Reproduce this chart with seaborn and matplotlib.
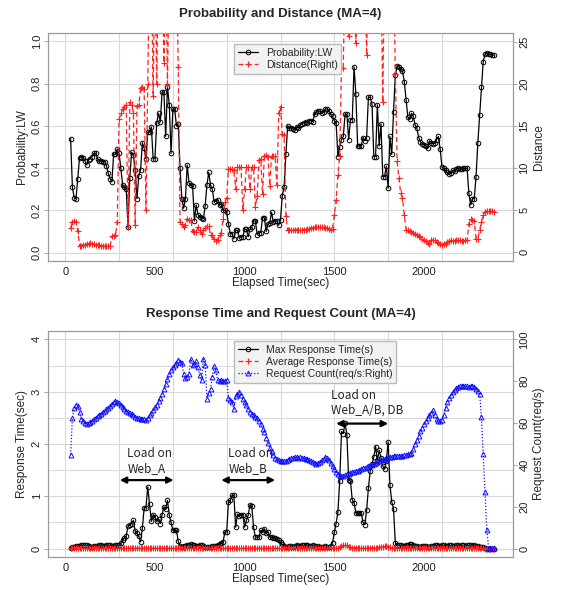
import numpy as np
import pandas as pd
import seaborn as sns
import matplotlib.pyplot as plt
from matplotlib.lines import Line2D

sns.set_style("white")
plt.rcParams["font.family"] = ["Liberation Sans", "DejaVu Sans"]

# elapsed time, one sample every 10 sec (moving average of 4)
elapsed = list(range(30, 2400, 10))

prob_lw = [
    0.54, 0.31, 0.26, 0.255, 0.35, 0.45, 0.455, 0.45, 0.435, 0.415,
    0.44, 0.445, 0.455, 0.47, 0.47, 0.445, 0.435, 0.435, 0.43, 0.43,
    0.41, 0.375, 0.35, 0.335, 0.465, 0.465, 0.49, 0.47, 0.40, 0.32,
    0.31, 0.30, 0.12, 0.355, 0.475, 0.46, 0.39, 0.255, 0.365, 0.39,
    0.52, 0.495, 0.445, 0.57, 0.57, 0.595, 0.445, 0.445, 0.615, 0.66,
    0.62, 0.76, 0.76, 0.55, 0.785, 0.70, 0.47, 0.68, 0.68, 0.60,
    0.61, 0.40, 0.255, 0.21, 0.255, 0.415, 0.33, 0.32, 0.315, 0.15,
    0.225, 0.18, 0.17, 0.165, 0.16, 0.22, 0.32, 0.38, 0.32, 0.30,
    0.24, 0.245, 0.25, 0.225, 0.23, 0.20, 0.20, 0.19, 0.135, 0.09,
    0.09, 0.065, 0.105, 0.105, 0.07, 0.075, 0.075, 0.11, 0.11, 0.075,
    0.11, 0.12, 0.15, 0.15, 0.085, 0.095, 0.095, 0.165, 0.165, 0.10,
    0.135, 0.14, 0.19, 0.145, 0.15, 0.15, 0.13, 0.155, 0.27, 0.31,
    0.465, 0.60, 0.59, 0.59, 0.585, 0.58, 0.595, 0.59, 0.605, 0.61,
    0.615, 0.62, 0.615, 0.625, 0.625, 0.62, 0.655, 0.665, 0.67, 0.67,
    0.66, 0.665, 0.68, 0.68, 0.67, 0.655, 0.645, 0.625, 0.615, 0.455,
    0.50, 0.535, 0.55, 0.655, 0.655, 0.535, 0.63, 0.63, 0.88, 0.75,
    0.505, 0.505, 0.505, 0.545, 0.53, 0.545, 0.735, 0.735, 0.705, 0.455,
    0.455, 0.70, 0.505, 0.61, 0.36, 0.36, 0.41, 0.305, 0.55, 0.465,
    0.665, 0.84, 0.885, 0.88, 0.87, 0.86, 0.81, 0.725, 0.64, 0.635,
    0.66, 0.645, 0.605, 0.59, 0.545, 0.525, 0.515, 0.51, 0.505, 0.495,
    0.53, 0.52, 0.515, 0.52, 0.535, 0.55, 0.49, 0.405, 0.40, 0.39,
    0.38, 0.37, 0.375, 0.39, 0.385, 0.395, 0.40, 0.395, 0.395, 0.40,
    0.40, 0.40, 0.28, 0.225, 0.255, 0.255, 0.36, 0.52, 0.65, 0.785,
    0.905, 0.94, 0.945, 0.94, 0.94, 0.935, 0.935,
]

# values above 26 run off the top of the plot
distance = [
    2.9, 3.6, 3.7, 3.6, 2.5, 0.8, 0.8, 0.9, 0.9, 1.0,
    1.0, 1.05, 1.0, 0.95, 0.9, 0.85, 0.85, 0.8, 0.75, 0.75,
    0.7, 0.7, 0.75, 1.9, 1.9, 2.0, 3.6, 15.8, 16.5, 17.0,
    17.2, 17.5, 3.0, 17.8, 17.5, 16.5, 3.2, 17.4, 17.5, 19.5,
    19.6, 19.4, 5.0, 20.0, 35.0, 35.0, 18.5, 35.0, 20.0, 35.0,
    35.0, 35.0, 22.5, 35.0, 20.0, 35.0, 35.0, 35.0, 35.0, 35.0,
    22.0, 3.6, 3.4, 3.0, 3.2, 4.0, 3.8, 3.8, 2.5, 2.4,
    2.4, 3.0, 2.6, 2.2, 2.6, 2.9, 3.1, 3.1, 2.1, 2.0,
    1.6, 1.3, 1.5, 2.0, 2.3, 4.0, 6.0, 6.4, 9.9, 9.9,
    9.9, 9.8, 7.5, 10.1, 10.1, 10.1, 5.0, 7.5, 10.1, 10.1,
    7.5, 10.1, 10.1, 5.4, 6.7, 10.9, 11.1, 6.9, 11.4, 11.5,
    11.3, 7.9, 11.4, 11.4, 11.4, 8.0, 16.5, 17.3, 14.1, 13.9,
    4.3, 2.7, 2.7, 2.7, 2.7, 2.7, 2.7, 2.7, 2.7, 2.7,
    2.7, 2.7, 2.8, 2.8, 2.9, 2.9, 3.0, 3.0, 3.0, 3.0,
    3.0, 3.0, 2.9, 2.9, 2.8, 2.7, 2.8, 4.4, 6.2, 9.2,
    11.4, 21.9, 21.9, 35.0, 35.0, 25.7, 35.0, 35.0, 35.0, 24.8,
    35.0, 35.0, 35.0, 35.0, 35.0, 23.4, 35.0, 35.0, 35.0, 35.0,
    35.0, 35.0, 35.0, 35.0, 17.8, 35.0, 35.0, 35.0, 35.0, 35.0,
    35.0, 21.2, 10.8, 8.8, 7.0, 6.4, 4.4, 2.7, 2.6, 2.5,
    2.4, 2.3, 2.2, 2.0, 1.9, 1.8, 1.6, 1.5, 1.3, 1.1,
    1.0, 1.5, 1.5, 1.4, 1.2, 1.1, 1.0, 0.9, 1.0, 1.0,
    1.2, 1.3, 1.4, 1.3, 1.3, 1.4, 1.4, 1.4, 1.3, 1.3,
    1.4, 1.4, 3.4, 3.9, 3.8, 3.7, 1.6, 1.6, 2.6, 3.6,
    4.4, 4.8, 4.9, 4.9, 4.9, 4.9, 4.8,
]

max_resp = [
    0.02, 0.03, 0.04, 0.05, 0.05, 0.05, 0.06, 0.06, 0.07, 0.06,
    0.05, 0.04, 0.04, 0.05, 0.05, 0.05, 0.06, 0.06, 0.05, 0.05,
    0.06, 0.06, 0.06, 0.05, 0.05, 0.06, 0.06, 0.06, 0.10, 0.17,
    0.20, 0.24, 0.43, 0.45, 0.48, 0.54, 0.33, 0.29, 0.24, 0.13,
    0.39, 0.78, 0.78, 1.18, 0.85, 0.52, 0.65, 0.60, 0.52, 0.57,
    0.48, 0.65, 0.80, 0.76, 0.92, 0.64, 0.50, 0.35, 0.35, 0.35,
    0.14, 0.05, 0.04, 0.05, 0.05, 0.06, 0.07, 0.08, 0.07, 0.06,
    0.05, 0.05, 0.06, 0.06, 0.05, 0.04, 0.04, 0.03, 0.04, 0.05,
    0.05, 0.05, 0.06, 0.08, 0.11, 0.13, 0.32, 0.32, 0.90, 0.92,
    1.02, 1.02, 0.41, 0.66, 0.62, 0.64, 0.65, 0.41, 0.54, 0.64,
    0.84, 0.81, 0.41, 0.22, 0.22, 0.22, 0.35, 0.32, 0.38, 0.29,
    0.32, 0.22, 0.22, 0.21, 0.20, 0.18, 0.16, 0.12, 0.08, 0.05,
    0.04, 0.04, 0.05, 0.05, 0.04, 0.05, 0.06, 0.05, 0.05, 0.06,
    0.06, 0.07, 0.06, 0.05, 0.05, 0.06, 0.05, 0.04, 0.05, 0.04,
    0.03, 0.04, 0.05, 0.04, 0.03, 0.05, 0.11, 0.31, 0.48, 0.70,
    1.29, 2.24, 2.20, 2.40, 2.18, 1.32, 1.29, 0.93, 0.88, 0.68,
    0.68, 0.68, 0.68, 0.50, 0.46, 0.73, 1.16, 1.48, 1.61, 1.75,
    1.95, 1.68, 1.88, 1.73, 1.58, 1.52, 1.68, 2.04, 1.22, 0.90,
    0.76, 0.11, 0.07, 0.06, 0.06, 0.05, 0.05, 0.06, 0.07, 0.08,
    0.08, 0.06, 0.05, 0.05, 0.04, 0.04, 0.05, 0.05, 0.05, 0.04,
    0.04, 0.05, 0.05, 0.06, 0.06, 0.05, 0.05, 0.06, 0.06, 0.05,
    0.05, 0.06, 0.06, 0.05, 0.05, 0.06, 0.06, 0.05, 0.06, 0.06,
    0.05, 0.06, 0.06, 0.06, 0.05, 0.06, 0.05, 0.05, 0.04, 0.04,
    0.03, 0.01, 0.0, 0.0, 0.0, 0.0, 0.0,
]

avg_resp = [
    0.01, 0.01, 0.01, 0.01, 0.01, 0.01, 0.01, 0.01, 0.01, 0.01,
    0.01, 0.01, 0.01, 0.01, 0.01, 0.01, 0.01, 0.01, 0.01, 0.01,
    0.01, 0.01, 0.01, 0.01, 0.01, 0.01, 0.01, 0.01, 0.01, 0.01,
    0.01, 0.01, 0.01, 0.01, 0.01, 0.01, 0.01, 0.01, 0.01, 0.01,
    0.01, 0.01, 0.01, 0.02, 0.01, 0.01, 0.01, 0.01, 0.01, 0.01,
    0.01, 0.01, 0.01, 0.01, 0.01, 0.01, 0.01, 0.01, 0.01, 0.01,
    0.01, 0.01, 0.01, 0.01, 0.01, 0.01, 0.01, 0.01, 0.01, 0.01,
    0.01, 0.01, 0.01, 0.01, 0.01, 0.01, 0.01, 0.01, 0.01, 0.01,
    0.01, 0.01, 0.01, 0.01, 0.01, 0.01, 0.01, 0.01, 0.01, 0.01,
    0.02, 0.02, 0.01, 0.01, 0.01, 0.01, 0.01, 0.01, 0.01, 0.01,
    0.01, 0.01, 0.01, 0.01, 0.01, 0.01, 0.01, 0.01, 0.01, 0.01,
    0.01, 0.01, 0.01, 0.01, 0.01, 0.01, 0.01, 0.01, 0.01, 0.01,
    0.01, 0.01, 0.01, 0.01, 0.01, 0.01, 0.01, 0.01, 0.01, 0.01,
    0.01, 0.01, 0.01, 0.01, 0.01, 0.01, 0.01, 0.01, 0.01, 0.01,
    0.01, 0.01, 0.01, 0.01, 0.01, 0.01, 0.01, 0.02, 0.02, 0.02,
    0.03, 0.05, 0.07, 0.07, 0.06, 0.04, 0.03, 0.02, 0.02, 0.02,
    0.02, 0.02, 0.01, 0.01, 0.01, 0.01, 0.01, 0.02, 0.02, 0.02,
    0.02, 0.02, 0.03, 0.03, 0.04, 0.05, 0.05, 0.04, 0.03, 0.02,
    0.01, 0.01, 0.01, 0.01, 0.01, 0.01, 0.01, 0.01, 0.01, 0.01,
    0.01, 0.01, 0.01, 0.01, 0.01, 0.01, 0.01, 0.01, 0.01, 0.01,
    0.01, 0.01, 0.01, 0.01, 0.01, 0.01, 0.01, 0.01, 0.01, 0.01,
    0.01, 0.01, 0.01, 0.01, 0.01, 0.01, 0.01, 0.01, 0.01, 0.01,
    0.01, 0.01, 0.01, 0.01, 0.01, 0.01, 0.01, 0.01, 0.01, 0.01,
    0.01, 0.0, 0.0, 0.0, 0.0, 0.0, 0.0,
]

req_count = [
    44.9, 62.4, 67.2, 68.8, 68.2, 65.3, 61.8, 60.8, 60.2, 59.7,
    60.0, 60.5, 61.2, 61.8, 62.6, 63.4, 64.0, 64.5, 65.3, 66.0,
    66.6, 67.4, 68.2, 69.2, 70.1, 70.4, 70.3, 69.6, 68.6, 67.7,
    66.8, 65.6, 65.1, 64.8, 64.2, 63.7, 63.1, 62.6, 62.2, 61.8,
    62.1, 61.8, 61.3, 62.4, 63.7, 65.0, 66.1, 67.5, 68.8, 70.5,
    72.0, 74.0, 76.1, 78.8, 81.2, 83.5, 85.5, 86.8, 87.6, 88.9,
    90.0, 89.3, 88.9, 83.6, 81.5, 82.0, 83.6, 90.8, 87.6, 88.0,
    89.5, 86.8, 82.8, 80.4, 90.8, 87.6, 71.7, 74.5, 76.4, 82.0,
    87.1, 85.2, 80.4, 79.9, 80.4, 80.2, 79.9, 80.4, 72.1, 70.9,
    70.0, 66.6, 72.8, 74.0, 74.8, 73.2, 71.7, 70.0, 68.5, 66.6,
    65.5, 64.5, 63.7, 62.9, 62.2, 61.0, 59.7, 57.3, 55.6, 53.0,
    50.5, 48.3, 46.5, 44.9, 43.5, 42.6, 42.2, 42.0, 41.9, 41.9,
    42.0, 42.5, 43.0, 43.2, 43.4, 43.6, 43.6, 43.5, 43.6, 43.5,
    43.3, 43.0, 42.6, 42.2, 41.8, 41.3, 40.8, 40.6, 41.0, 41.5,
    42.2, 43.0, 43.8, 43.5, 42.5, 41.0, 39.5, 38.0, 36.5, 35.5,
    34.8, 34.5, 34.8, 35.2, 35.5, 35.8, 36.2, 36.5, 36.8, 37.0,
    37.3, 37.6, 38.0, 38.3, 38.6, 39.0, 39.4, 39.8, 40.2, 40.6,
    41.0, 41.4, 41.8, 42.2, 42.6, 43.0, 43.3, 43.6, 43.8, 44.0,
    44.2, 44.4, 44.5, 44.4, 44.3, 44.4, 44.6, 44.8, 45.0, 45.2,
    45.6, 47.5, 50.0, 52.0, 54.0, 56.0, 57.8, 59.5, 61.0, 62.5,
    63.8, 65.0, 66.2, 64.0, 62.0, 61.0, 60.8, 61.5, 64.0, 67.0,
    70.0, 72.0, 73.5, 75.0, 76.0, 76.8, 77.3, 77.6, 77.8, 77.7,
    77.5, 77.5, 77.3, 77.5, 77.6, 77.4, 76.5, 75.5, 74.0, 63.0,
    45.0, 27.0, 9.0, 0.3, 0.2, 0.2, 0.2,
]

for name, s in [("prob", prob_lw), ("dist", distance), ("max", max_resp),
                ("avg", avg_resp), ("req", req_count)]:
    assert len(s) == len(elapsed), (name, len(s), len(elapsed))

df = pd.DataFrame({"t": elapsed, "prob": prob_lw, "dist": distance,
                   "max": max_resp, "avg": avg_resp, "req": req_count})

W, H = 561, 590
fig = plt.figure(figsize=(W / 100, H / 100), dpi=100)

GRID = "#d9d9d9"
FRAME = "#999999"
vgrid = [0, 300, 600, 900, 1200, 1500, 1800, 2100]


def ax_rect(left, top, right, bottom):
    return [left / W, 1 - bottom / H, (right - left) / W, (bottom - top) / H]


def style_axes(ax):
    for sp in ax.spines.values():
        sp.set_color(FRAME)
        sp.set_linewidth(0.8)
    ax.tick_params(axis="both", which="both", direction="out", length=3,
                   color=FRAME, labelsize=8, labelcolor="#222222", width=0.6,
                   pad=1.5)
    ax.tick_params(axis="y", labelrotation=90)
    for lbl in ax.get_yticklabels():
        lbl.set_va("center")


red = "#ff2020"
blue = "#1010ff"
leg_kw = dict(loc="upper left", fontsize=7.5, frameon=True, fancybox=False,
              handlelength=2.0, borderpad=0.35, labelspacing=0.2,
              handletextpad=0.7, borderaxespad=0)

# ---------- top panel ----------
ax1 = fig.add_axes(ax_rect(48, 33, 513, 261))
ax1.set_xlim(-96, 2496)
ax1.set_ylim(-0.04, 1.04)
for v in vgrid:
    ax1.axvline(v, color=GRID, lw=0.8, zorder=0)
for h in [0, 0.2, 0.4, 0.6, 0.8, 1.0]:
    ax1.axhline(h, color=GRID, lw=0.8, zorder=0)

sns.lineplot(data=df, x="t", y="prob", ax=ax1, color="black", lw=0.9,
             marker="o", ms=3.3, markerfacecolor="none",
             markeredgecolor="black", mew=0.7, legend=False)
ax1.set_yticks([0, 0.2, 0.4, 0.6, 0.8, 1.0])
ax1.set_yticklabels(["0.0", "0.2", "0.4", "0.6", "0.8", "1.0"])
ax1.set_xticks([0, 500, 1000, 1500, 2000])
ax1.set_xlabel("Elapsed Time(sec)", fontsize=8.5, labelpad=0)
ax1.set_ylabel("Probability:LW", fontsize=8.5, labelpad=3)

ax1b = ax1.twinx()
ax1b.set_ylim(-1.04, 26.04)
sns.lineplot(data=df, x="t", y="dist", ax=ax1b, color=red, lw=0.9,
             linestyle=(0, (4, 2.5)), marker="+", ms=5, mew=0.8,
             markeredgecolor=red, legend=False)
ax1b.set_yticks([0, 5, 10, 15, 20, 25])
ax1b.set_ylabel("Distance", fontsize=8.5, labelpad=3)
ax1b.set_xlim(-96, 2496)
style_axes(ax1)
style_axes(ax1b)

h_top = [
    Line2D([], [], color="black", lw=0.9, marker="o", ms=3.3,
           markerfacecolor="none", mew=0.7),
    Line2D([], [], color=red, lw=0.9, linestyle=(0, (4, 2.5)), marker="+",
           ms=5, mew=0.8),
]
leg = ax1b.legend(h_top, ["Probability:LW", "Distance(Right)"],
                  bbox_to_anchor=(0.40, 0.95), **leg_kw)
leg.get_frame().set_facecolor("#f2f2f2")
leg.get_frame().set_edgecolor("#bbbbbb")
leg.get_frame().set_alpha(1)

fig.text(280.5 / W, 1 - 14 / H, "Probability and Distance (MA=4)",
         ha="center", va="center", fontsize=9.5, fontweight="bold")

# ---------- bottom panel ----------
ax2 = fig.add_axes(ax_rect(48, 331, 513, 557))
ax2.set_xlim(-96, 2496)
ax2.set_ylim(-0.16, 4.16)
for v in vgrid:
    ax2.axvline(v, color=GRID, lw=0.8, zorder=0)
for h in [0, 0.5, 1, 1.5, 2, 2.5, 3, 3.5, 4]:
    ax2.axhline(h, color=GRID, lw=0.8, zorder=0)

sns.lineplot(data=df, x="t", y="max", ax=ax2, color="black", lw=0.9,
             marker="o", ms=3.3, markerfacecolor="none",
             markeredgecolor="black", mew=0.7, legend=False)
sns.lineplot(data=df, x="t", y="avg", ax=ax2, color=red, lw=0.9,
             linestyle=(0, (4, 2.5)), marker="+", ms=5, mew=0.8,
             markeredgecolor=red, legend=False)
ax2.set_yticks([0, 1, 2, 3, 4])
ax2.set_xticks([0, 500, 1000, 1500, 2000])
ax2.set_xlabel("Elapsed Time(sec)", fontsize=8.5, labelpad=0)
ax2.set_ylabel("Response Time(sec)", fontsize=8.5, labelpad=3)

ax2b = ax2.twinx()
ax2b.set_ylim(-4, 104)
sns.lineplot(data=df, x="t", y="req", ax=ax2b, color=blue, lw=0.9,
             linestyle=(0, (1, 1.5)), marker="^", ms=3.5,
             markerfacecolor="none", markeredgecolor=blue, mew=0.7,
             legend=False)
ax2b.set_yticks([0, 20, 40, 60, 80, 100])
ax2b.set_ylabel("Request Count(req/s)", fontsize=8.5, labelpad=3)
ax2b.set_xlim(-96, 2496)
style_axes(ax2)
style_axes(ax2b)

# load annotations
anno_font = ["Noto Sans CJK JP", "DejaVu Sans"]
loads = [
    ("Load on\nWeb_A", 346, 1.68, 304, 604, 1.31),
    ("Load on\nWeb_B", 910, 1.68, 870, 1170, 1.31),
    ("Load on\nWeb_A/B, DB", 1480, 2.79, 1510, 1800, 2.39),
]
for txt, tx, ty, x0, x1, ya in loads:
    ax2.text(tx, ty, txt, ha="left", va="center", fontsize=8.5,
             family=anno_font, linespacing=1.2, zorder=6)
    ax2.annotate("", xy=(x1, ya), xytext=(x0, ya),
                 arrowprops=dict(arrowstyle="<|-|>", color="black", lw=1.6,
                                 mutation_scale=9, shrinkA=0, shrinkB=0),
                 zorder=6)

h_bot = [
    Line2D([], [], color="black", lw=0.9, marker="o", ms=3.3,
           markerfacecolor="none", mew=0.7),
    Line2D([], [], color=red, lw=0.9, linestyle=(0, (4, 2.5)), marker="+",
           ms=5, mew=0.8),
    Line2D([], [], color=blue, lw=0.9, linestyle=(0, (1, 1.5)), marker="^",
           ms=3.5, markerfacecolor="none", mew=0.7),
]
leg2 = ax2b.legend(h_bot, ["Max Response Time(s)", "Average Response Time(s)",
                           "Request Count(req/s:Right)"],
                   bbox_to_anchor=(0.40, 0.955), **leg_kw)
leg2.get_frame().set_facecolor("#f2f2f2")
leg2.get_frame().set_edgecolor("#bbbbbb")
leg2.get_frame().set_alpha(1)

fig.text(280.5 / W, 1 - 314 / H, "Response Time and Request Count (MA=4)",
         ha="center", va="center", fontsize=9.5, fontweight="bold")

fig.savefig("out.png", dpi=100, facecolor="white")
